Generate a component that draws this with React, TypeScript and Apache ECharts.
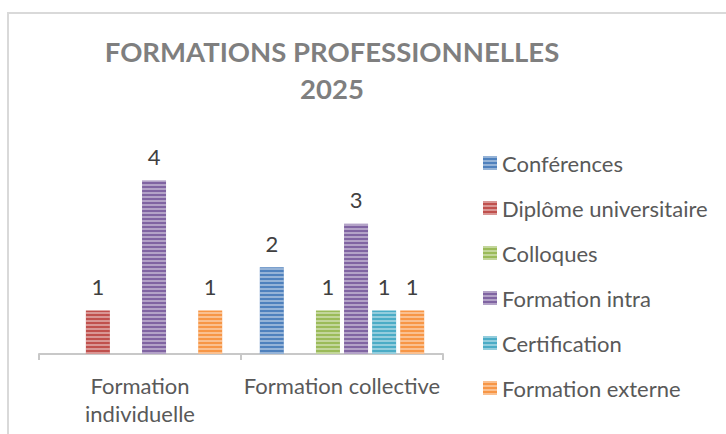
import React, { useEffect, useRef } from "react";
import * as echarts from "echarts";

const categories = ["Formation individuelle", "Formation collective"];
const seriesNames = [
  "Conférences",
  "Diplôme universitaire",
  "Colloques",
  "Formation intra",
  "Certification",
  "Formation externe",
];
const conferences = [null, 2];
const diplome = [1, null];
const colloques = [null, 1];
const formationIntra = [4, 3];
const certification = [null, 1];
const formationExterne = [1, 1];
const seriesValues = [conferences, diplome, colloques, formationIntra, certification, formationExterne];
const colors = ["#4F81BD", "#C0504D", "#9BBB59", "#8064A2", "#4BACC6", "#F79646"];

const FONT = "Lato";

export default function App() {
  const ref = useRef<HTMLDivElement>(null);
  useEffect(() => {
    if (!ref.current) return;
    const chart = echarts.init(ref.current, undefined, { renderer: "svg" });
    const decal = {
      symbol: "rect",
      symbolSize: 1,
      dashArrayX: [1, 0],
      dashArrayY: [2, 2],
      color: "rgba(255,255,255,0.4)",
    };
    chart.setOption({
      animation: false,
      backgroundColor: "#ffffff",
      title: {
        text: "FORMATIONS PROFESSIONNELLES\n2025",
        left: 332,
        top: 33,
        padding: 0,
        textAlign: "center",
        textStyle: {
          fontFamily: FONT,
          fontWeight: "bold",
          fontSize: 27.5,
          lineHeight: 37,
          color: "#7f7f7f",
        },
      },
      graphic: [
        {
          type: "rect",
          silent: true,
          z: -10,
          shape: { x: 8, y: 13, width: 1000, height: 1000 },
          style: { fill: "none", stroke: "#d9d9d9", lineWidth: 2 },
        },
      ],
      legend: {
        orient: "vertical",
        left: 483,
        top: 152,
        padding: 0,
        itemWidth: 14,
        itemHeight: 14,
        itemGap: 23,
        icon: "rect",
        textStyle: { fontFamily: FONT, fontSize: 22, lineHeight: 22, color: "#595959" },
        data: seriesNames,
      },
      grid: { left: 39, right: 283, top: 137, bottom: 80, containLabel: false },
      xAxis: {
        type: "category",
        data: categories,
        axisLine: { lineStyle: { color: "#c8c8c8", width: 2 } },
        axisTick: { show: true, length: 6, lineStyle: { color: "#c8c8c8", width: 2 } },
        axisLabel: {
          fontFamily: FONT,
          fontSize: 22,
          lineHeight: 28,
          color: "#595959",
          margin: 17,
          interval: 0,
          formatter: (v: string) => (v.length > 20 ? v.replace(" ", "\n") : v),
        },
      },
      yAxis: { type: "value", min: 0, max: 5, interval: 1, show: false, splitLine: { show: false } },
      series: seriesNames.map((name, i) => ({
        name,
        type: "bar",
        data: seriesValues[i],
        barWidth: 24,
        barGap: "17%",
        itemStyle: { color: colors[i], decal },
        label: {
          show: true,
          position: "top",
          distance: 13,
          fontFamily: FONT,
          fontSize: 22,
          color: "#404040",
        },
      })),
    });
    return () => chart.dispose();
  }, []);
  return (
    <div
      ref={ref}
      style={{ position: "absolute", left: 0, top: 0, width: 726, height: 434 }}
    />
  );
}
